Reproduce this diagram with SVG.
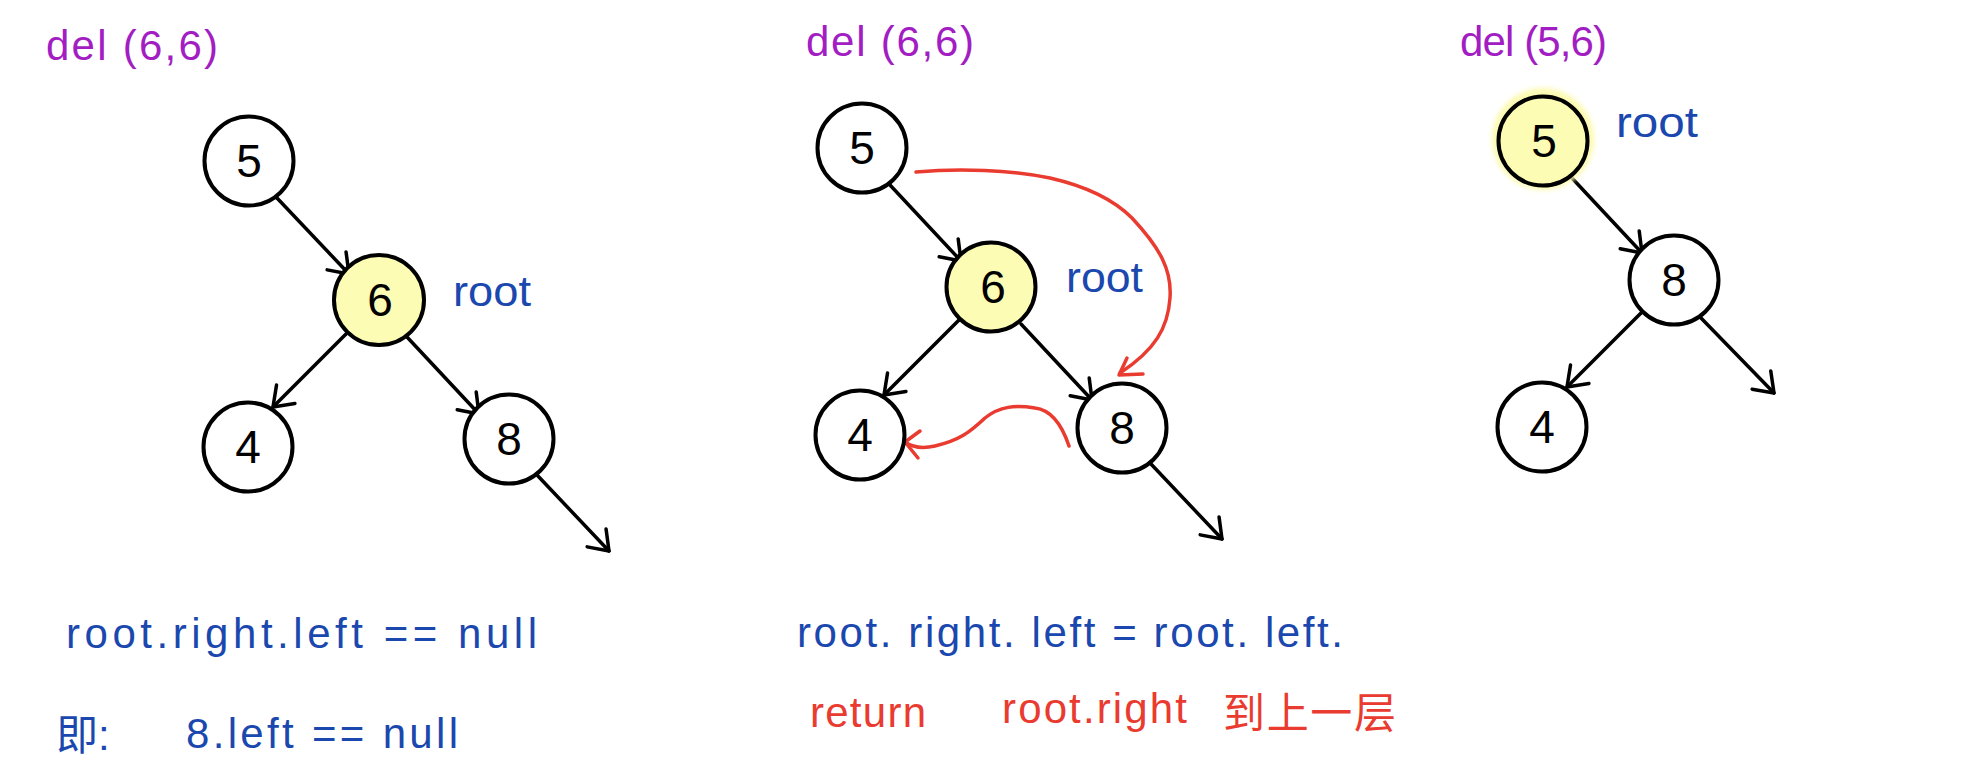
<svg xmlns="http://www.w3.org/2000/svg" width="1966" height="760" viewBox="0 0 1966 760">
<style>
.n{fill:#fff;stroke:#000;stroke-width:4}
.hl{fill:#fcfcb4;stroke:#000;stroke-width:4}
.d{font-family:"Liberation Sans","Noto Sans",sans-serif;font-size:46px;fill:#000;text-anchor:middle;dominant-baseline:central}
.e{fill:none;stroke:#000;stroke-width:3.5;stroke-linecap:round}
.r{fill:none;stroke:#e93b2f;stroke-width:3.5;stroke-linecap:round;stroke-linejoin:round}
.t{font-family:"Liberation Sans","Noto Sans CJK SC",sans-serif;font-size:42px}
.pu{fill:#a21ec3}
.bl{fill:#1b48ae}
.rd{fill:#e93b2f}
</style>
<defs>
<marker id="ah" markerUnits="userSpaceOnUse" markerWidth="40" markerHeight="40" refX="0" refY="0" viewBox="-20 -20 40 40" orient="auto" overflow="visible">
<path d="M-18,-13 L0,0 L-18,13" fill="none" stroke="#000" stroke-width="3.5" stroke-linecap="round" stroke-linejoin="round"/>
</marker>
<filter id="glow" x="-30%" y="-30%" width="160%" height="160%"><feGaussianBlur stdDeviation="2.5"/></filter>
</defs>

<!-- titles -->
<text class="t pu" x="46" y="60" font-size="40" textLength="172" lengthAdjust="spacing">del (6,6)</text>
<text class="t pu" x="806" y="56" font-size="40" textLength="168" lengthAdjust="spacing">del (6,6)</text>
<text class="t pu" x="1460" y="56" font-size="40" textLength="147" lengthAdjust="spacing">del (5,6)</text>

<!-- root labels -->
<text class="t bl" x="453" y="306" font-size="44" textLength="78" lengthAdjust="spacingAndGlyphs">root</text>
<text class="t bl" x="1066" y="292" font-size="44" textLength="77" lengthAdjust="spacingAndGlyphs">root</text>
<text class="t bl" x="1616" y="137" font-size="40" textLength="82" lengthAdjust="spacingAndGlyphs">root</text>

<!-- connectors -->
<g id="connectors">
<line class="e" x1="277" y1="198" x2="349" y2="274" marker-end="url(#ah)"/>
<line class="e" x1="346" y1="334" x2="273" y2="407" marker-end="url(#ah)"/>
<line class="e" x1="407" y1="337" x2="479" y2="414" marker-end="url(#ah)"/>
<line class="e" x1="537" y1="475" x2="609" y2="551" marker-end="url(#ah)"/>

<line class="e" x1="890" y1="185" x2="961" y2="261" marker-end="url(#ah)"/>
<line class="e" x1="959" y1="320" x2="884" y2="395" marker-end="url(#ah)"/>
<line class="e" x1="1021" y1="324" x2="1092" y2="400" marker-end="url(#ah)"/>
<line class="e" x1="1151" y1="464" x2="1222" y2="539" marker-end="url(#ah)"/>

<line class="e" x1="1571" y1="177" x2="1642" y2="253" marker-end="url(#ah)"/>
<line class="e" x1="1641" y1="313" x2="1567" y2="387" marker-end="url(#ah)"/>
<line class="e" x1="1701" y1="318" x2="1774" y2="393" marker-end="url(#ah)"/>

<path class="r" d="M916,172 C960,168 1010,170 1050,178 C1085,186 1112,198 1132,218 C1160,248 1172,270 1170,298 C1168,328 1155,350 1120,373"/>
<path class="r" d="M1127,358 L1119,375 L1143,374"/>
<path class="r" d="M1069,446 C1062,425 1052,410 1035,408 C1015,405 1000,406 985,418 C970,432 960,440 935,446 C922,449 912,447 905,442"/>
<path class="r" d="M920,431 L905,442 L918,458"/>
</g>

<!-- panel 1 nodes -->
<g id="p1-n5"><circle class="n" cx="249" cy="161" r="44.5"/><text class="d" x="249" y="161">5</text></g>
<g id="p1-n6"><circle class="hl" cx="379" cy="300" r="45"/><text class="d" x="380" y="300">6</text></g>
<g id="p1-n4"><circle class="n" cx="248" cy="447" r="44.5"/><text class="d" x="248" y="447">4</text></g>
<g id="p1-n8"><circle class="n" cx="509" cy="439" r="44.5"/><text class="d" x="509" y="439">8</text></g>

<!-- panel 2 nodes -->
<g id="p2-n5"><circle class="n" cx="862" cy="148" r="44.5"/><text class="d" x="862" y="148">5</text></g>
<g id="p2-n6"><circle class="hl" cx="991" cy="287" r="44.5"/><text class="d" x="993" y="287">6</text></g>
<g id="p2-n4"><circle class="n" cx="860" cy="435" r="44.5"/><text class="d" x="860" y="435">4</text></g>
<g id="p2-n8"><circle class="n" cx="1122" cy="428" r="44.5"/><text class="d" x="1122" y="428">8</text></g>

<!-- panel 3 nodes -->
<g id="p3-n5"><circle cx="1543" cy="139" r="51" fill="#fcfab0" filter="url(#glow)"/><circle class="hl" cx="1543" cy="141" r="44.5"/><text class="d" x="1544" y="141">5</text></g>
<g id="p3-n8"><circle class="n" cx="1674" cy="280" r="44.5"/><text class="d" x="1674" y="280" font-size="40">8</text></g>
<g id="p3-n4"><circle class="n" cx="1542" cy="427" r="44.5"/><text class="d" x="1542" y="427">4</text></g>

<!-- bottom notes -->
<text class="t bl" x="66" y="648" textLength="471" lengthAdjust="spacing">root.right.left  == null</text>
<text class="t bl" x="56" y="750" font-size="50">即:</text>
<text class="t bl" x="186" y="748" textLength="272" lengthAdjust="spacing">8.left == null</text>

<text class="t bl" x="797" y="647" textLength="546" lengthAdjust="spacing">root. right. left = root. left.</text>
<text class="t rd" x="810" y="727" textLength="116" lengthAdjust="spacing">return</text>
<text class="t rd" x="1002" y="723" textLength="185" lengthAdjust="spacing">root.right</text>
<text class="t rd" x="1223" y="728" font-size="44" textLength="173" lengthAdjust="spacing">到上一层</text>
</svg>
